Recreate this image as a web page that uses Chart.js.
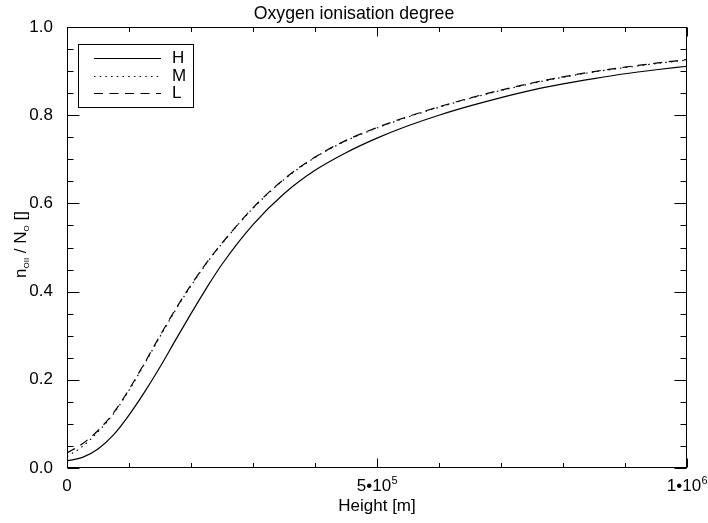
<!DOCTYPE html>
<html>
<head>
<meta charset="utf-8">
<title>Oxygen ionisation degree</title>
<script src="https://cdn.jsdelivr.net/npm/chart.js@4.4.1/dist/chart.umd.min.js"></script>
<style>
  html, body { margin: 0; padding: 0; background: #fff; }
  canvas { display: block; }
</style>
</head>
<body>
<canvas id="ion-graph" width="708" height="523"></canvas>
<script>
const heights = [0, 25000, 50000, 75000, 100000, 125000, 150000, 175000, 200000, 225000,
  250000, 300000, 350000, 400000, 450000, 500000, 550000, 600000, 650000,
  700000, 750000, 800000, 850000, 900000, 950000, 1000000];

const ionH = [0.016, 0.024, 0.043, 0.075, 0.120, 0.172, 0.229, 0.290, 0.350, 0.408,
  0.462, 0.552, 0.622, 0.675, 0.715, 0.748, 0.776, 0.800, 0.821,
  0.840, 0.857, 0.871, 0.883, 0.894, 0.903, 0.911];

const ionM = [0.026, 0.049, 0.082, 0.123, 0.176, 0.236, 0.298, 0.358, 0.413, 0.464,
  0.509, 0.589, 0.654, 0.704, 0.742, 0.771, 0.796, 0.818, 0.838,
  0.856, 0.872, 0.886, 0.898, 0.908, 0.917, 0.925];

const ionL = [0.034, 0.055, 0.085, 0.125, 0.178, 0.238, 0.300, 0.360, 0.415, 0.465,
  0.510, 0.590, 0.655, 0.705, 0.743, 0.772, 0.797, 0.819, 0.839,
  0.857, 0.873, 0.887, 0.899, 0.909, 0.918, 0.926];

const yTicks = [0, 0.2, 0.4, 0.6, 0.8, 1.0];
const xTickLabels = [
  { value: 0, base: '0', sup: '' },
  { value: 500000, base: '5\u202210', sup: '5' },
  { value: 1000000, base: '1\u202210', sup: '6' }
];

const FONT = '"Liberation Sans", Arial, Helvetica, sans-serif';

const toPoints = (vals) => heights.map((h, i) => ({ x: h, y: vals[i] }));

// box, inward ticks on all four sides, title, x labels, y title and legend
const idlFrame = {
  id: 'idlFrame',
  afterDraw(chart) {
    const { ctx, chartArea: a, scales: { x, y } } = chart;
    const L = a.left + 0.5, R = a.right - 0.5, T = a.top + 0.5, B = a.bottom - 0.5;
    ctx.save();
    ctx.strokeStyle = '#000';
    ctx.lineWidth = 1;
    ctx.setLineDash([]);
    ctx.strokeRect(L, T, R - L, B - T);

    ctx.beginPath();
    for (let v = 0; v <= 1.0001; v += 0.05) {
      const py = Math.round(y.getPixelForValue(v)) + 0.5;
      const major = Math.abs(v * 5 - Math.round(v * 5)) < 1e-6;
      const len = major ? 12 : 6;
      ctx.moveTo(L, py); ctx.lineTo(L + len, py);
      ctx.moveTo(R, py); ctx.lineTo(R - len, py);
    }
    for (let v = 0; v <= 1000000; v += 100000) {
      const px = Math.round(x.getPixelForValue(v)) + 0.5;
      const len = v % 500000 === 0 ? 9 : 4.5;
      ctx.moveTo(px, B); ctx.lineTo(px, B - len);
      ctx.moveTo(px, T); ctx.lineTo(px, T + len);
    }
    ctx.stroke();

    ctx.fillStyle = '#000';
    ctx.textBaseline = 'alphabetic';

    // title, centred on the page
    ctx.font = '17.7px ' + FONT;
    ctx.textAlign = 'center';
    ctx.fillText('Oxygen ionisation degree', chart.width / 2, 19);

    // x tick labels with superscript exponents
    ctx.textAlign = 'left';
    xTickLabels.forEach(t => {
      ctx.font = '17px ' + FONT;
      const w1 = ctx.measureText(t.base).width;
      ctx.font = '11px ' + FONT;
      const w2 = t.sup ? ctx.measureText(t.sup).width : 0;
      const px = x.getPixelForValue(t.value) - (w1 + w2) / 2;
      ctx.font = '17px ' + FONT;
      ctx.fillText(t.base, px, 491);
      if (t.sup) {
        ctx.font = '11px ' + FONT;
        ctx.fillText(t.sup, px + w1 + 0.5, 484);
      }
    });

    ctx.font = '17px ' + FONT;
    ctx.textAlign = 'center';
    ctx.fillText('Height [m]', (a.left + a.right) / 2, 511);

    // y title: n_OII / N_O []
    const parts = [
      { s: 'n', size: 17, dy: 0 },
      { s: 'OII', size: 8, dy: 3 },
      { s: ' / N', size: 17, dy: 0 },
      { s: 'O', size: 8, dy: 3 },
      { s: ' []', size: 17, dy: 0 }
    ];
    let total = 0;
    parts.forEach(p => { ctx.font = p.size + 'px ' + FONT; p.w = ctx.measureText(p.s).width; total += p.w; });
    ctx.translate(26, (a.top + a.bottom) / 2 - 3);
    ctx.rotate(-Math.PI / 2);
    ctx.textAlign = 'left';
    let cx = -total / 2;
    parts.forEach(p => {
      ctx.font = p.size + 'px ' + FONT;
      ctx.fillText(p.s, cx, p.dy);
      cx += p.w;
    });
    ctx.restore();

    // legend box
    ctx.save();
    ctx.strokeStyle = '#000';
    ctx.lineWidth = 1;
    ctx.strokeRect(78.5, 44.5, 115, 63);
    const rows = [58, 76, 93];
    chart.data.datasets.forEach((ds, i) => {
      ctx.beginPath();
      ctx.lineWidth = ds.borderWidth;
      ctx.setLineDash(ds.borderDash || []);
      ctx.moveTo(94, rows[i] + 0.5);
      ctx.lineTo(161, rows[i] + 0.5);
      ctx.stroke();
      ctx.setLineDash([]);
      ctx.fillStyle = '#000';
      ctx.font = '17px ' + FONT;
      ctx.textAlign = 'left';
      ctx.textBaseline = 'middle';
      ctx.fillText(ds.label, 172, rows[i] + 0.5);
    });
    ctx.restore();
  }
};

const ionChart = new Chart(document.querySelector('#ion-graph'), {
  type: 'line',
  data: {
    datasets: [
      { label: 'H', data: toPoints(ionH), borderColor: '#000', borderWidth: 1.2, borderDash: [] },
      { label: 'M', data: toPoints(ionM), borderColor: '#000', borderWidth: 1.2, borderDash: [1.5, 4.2] },
      { label: 'L', data: toPoints(ionL), borderColor: '#000', borderWidth: 1.2, borderDash: [9, 6.5] }
    ]
  },
  options: {
    responsive: false,
    animation: false,
    layout: { padding: { left: 0, right: 21, top: 27, bottom: 0 } },
    elements: {
      point: { radius: 0 },
      line: { cubicInterpolationMode: 'monotone', fill: false }
    },
    scales: {
      x: {
        type: 'linear',
        min: 0,
        max: 1000000,
        grid: { display: false },
        border: { display: false },
        ticks: { display: false },
        afterFit: (s) => { s.height = 55; }
      },
      y: {
        type: 'linear',
        min: 0,
        max: 1,
        grid: { display: false },
        border: { display: false },
        afterBuildTicks: (s) => { s.ticks = yTicks.map(v => ({ value: v })); },
        ticks: {
          color: '#000',
          padding: 6,
          font: { family: FONT, size: 17 },
          callback: (v) => Number(v).toFixed(1)
        },
        afterFit: (s) => { s.width = 67; }
      }
    },
    plugins: {
      legend: { display: false },
      tooltip: { enabled: false },
      title: { display: false }
    }
  },
  plugins: [idlFrame]
});
</script>
</body>
</html>
